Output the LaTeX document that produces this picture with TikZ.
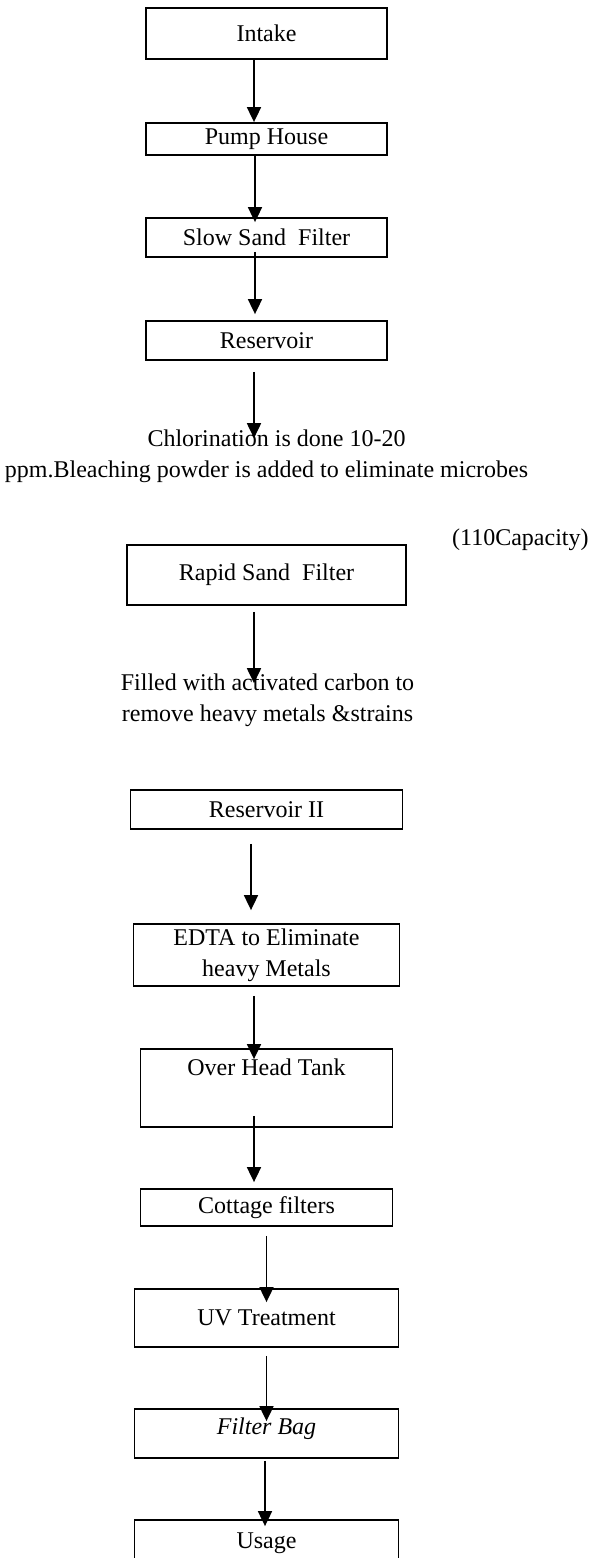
\documentclass[tikz,border=0pt]{standalone}
\usepackage{fontspec}
\setmainfont{Liberation Serif}
\usetikzlibrary{arrows.meta}

\begin{document}
\begin{tikzpicture}[
    x=0.5pt, y=-0.5pt,
    stage/.style={draw=black, fill=white, line width=0.9pt, inner sep=2pt,
                  minimum width=120.5pt, align=center,
                  font=\fontsize{12}{15.5}\selectfont},
    note/.style={align=center, inner sep=2pt, font=\fontsize{12}{15.5}\selectfont},
    arrow/.style={draw=black, line width=0.9pt, -{Triangle[length=7.5pt,width=7pt]}},
]
\clip (0,0) rectangle (590,1558);

% first stage
\node[stage, minimum height=25.5pt] (intake) at (266.5,33.5) {Intake};
\node[stage, minimum height=16pt] (pump) at (266.5,139) {Pump House};
\node[stage, minimum height=19.5pt] (slow) at (266.5,237.5) {Slow Sand\ \ Filter};
\node[stage, minimum height=19.5pt] (res) at (266.5,340.5) {Reservoir};

\node[note] (chlor) at (266.5,456) {\hspace*{10pt}Chlorination is done 10-20\\
    ppm.Bleaching powder is added to eliminate microbes};

% second stage
\node[stage, minimum width=139.5pt, minimum height=30pt] (rapid) at (266.5,575) {Rapid Sand\ \ Filter};
\node[note, inner sep=0pt, anchor=east] (cap) at (589,540) {(110Capacity)};

\node[note] (carbon) at (267.5,700) {Filled with activated carbon to\\
    remove heavy metals \&strains};

\node[stage, minimum width=136pt, minimum height=19.5pt] (res2) at (266.5,809.5) {Reservoir II};
\node[stage, minimum width=133pt, minimum height=31pt] (edta) at (266.5,955) {EDTA to Eliminate\\heavy Metals};
\node[stage, minimum width=126pt, minimum height=39pt, text depth=21pt] (tank) at (266.5,1088) {Over Head Tank};
\node[stage, minimum width=126pt, minimum height=18.5pt] (cottage) at (266.5,1207.5) {Cottage filters};
\node[stage, minimum width=132pt, minimum height=29pt] (uv) at (266.5,1318) {UV Treatment};
\node[stage, minimum width=132pt, minimum height=24.5pt, text depth=7.5pt] (bag) at (266.5,1433.5) {\itshape Filter Bag};
\node[stage, minimum width=132pt, minimum height=24.5pt, text depth=4pt] (usage) at (266.5,1544.5) {Usage};

% arrows
\draw[arrow] ([xshift=-6.25pt]intake.south) -- ([xshift=-6.25pt]pump.north);
\draw[arrow, shorten >=-2.5pt] ([xshift=-5.75pt]pump.south) -- ([xshift=-5.75pt]slow.north);
\draw[arrow, shorten <=-3pt, shorten >=3pt] ([xshift=-5.75pt]slow.south) -- ([xshift=-5.75pt]res.north);
\draw[arrow, shorten <=5.5pt, shorten >=-6.5pt] ([xshift=-6.25pt]res.south) -- ([xshift=-6.25pt]res.south |- chlor.north);
\draw[arrow, shorten <=3pt, shorten >=-7pt] ([xshift=-6.25pt]rapid.south) -- ([xshift=-6.25pt]rapid.south |- carbon.north);
\draw[arrow, shorten <=7pt, shorten >=6.5pt] ([xshift=-7.75pt]res2.south) -- ([xshift=-7.75pt]edta.north);
\draw[arrow, shorten <=4.5pt, shorten >=-5.5pt] ([xshift=-6.25pt]edta.south) -- ([xshift=-6.25pt]tank.north);
\draw[arrow, shorten <=-6pt, shorten >=3pt] ([xshift=-6.25pt]tank.south) -- ([xshift=-6.25pt]cottage.north);
\draw[arrow, shorten <=4.5pt, shorten >=-7pt] (cottage.south) -- (uv.north);
\draw[arrow, shorten <=4pt, shorten >=-6.5pt] (uv.south) -- (bag.north);
\draw[arrow, shorten <=1pt, shorten >=-3.5pt] ([xshift=-0.75pt]bag.south) -- ([xshift=-0.75pt]usage.north);

\end{tikzpicture}
\end{document}
